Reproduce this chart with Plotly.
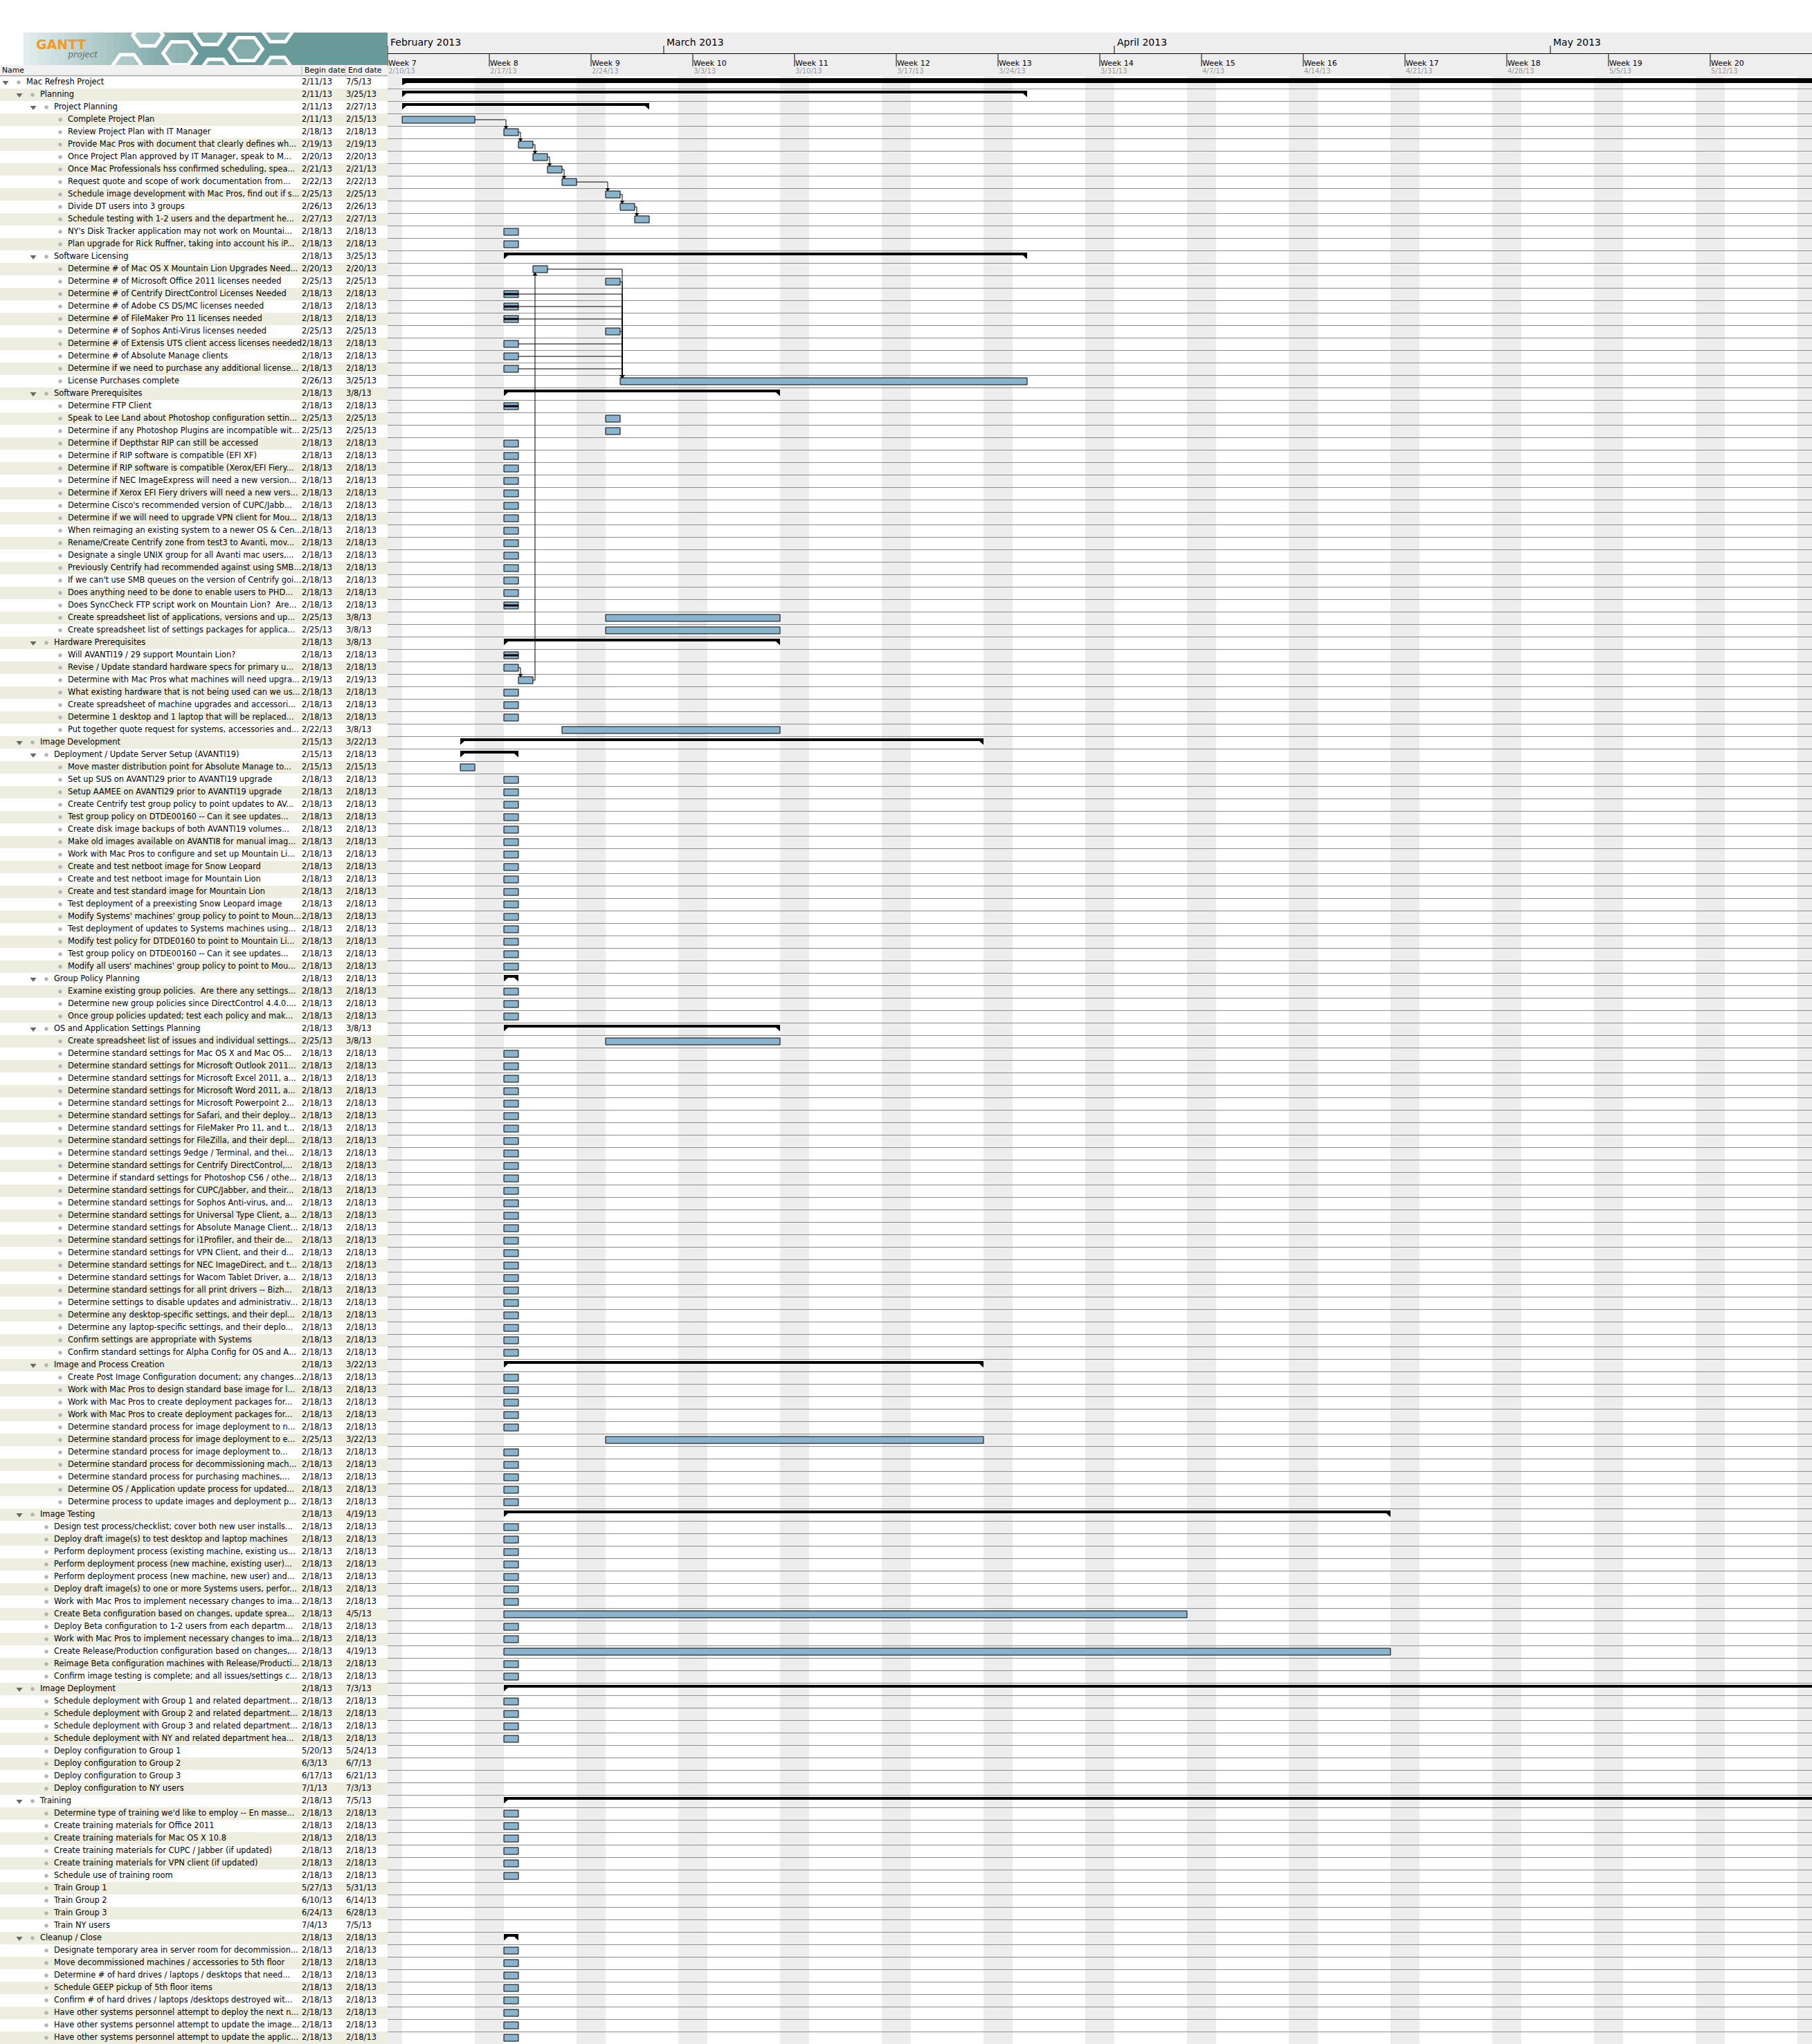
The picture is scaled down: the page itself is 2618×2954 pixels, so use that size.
import math
import pandas as pd
import plotly.graph_objects as go

W, H = 2618, 2954
TABLE_W = 560
ROWS_TOP = 110
ROW_H = 18
DAY_W = 21

task_names = [
    "Mac Refresh Project", "Planning", "Project Planning",
    "Complete Project Plan", "Review Project Plan with IT Manager",
    "Provide Mac Pros with document that clearly defines wh...",
    "Once Project Plan approved by IT Manager, speak to M...",
    "Once Mac Professionals hss confirmed scheduling, spea...",
    "Request quote and scope of work documentation from...",
    "Schedule image development with Mac Pros, find out if s...",
    "Divide DT users into 3 groups",
    "Schedule testing with 1-2 users and the department he...",
    "NY's Disk Tracker application may not work on Mountai...",
    "Plan upgrade for Rick Ruffner, taking into account his iP...",
    "Software Licensing",
    "Determine # of Mac OS X Mountain Lion Upgrades Need...",
    "Determine # of Microsoft Office 2011 licenses needed",
    "Determine # of Centrify DirectControl Licenses Needed",
    "Determine # of Adobe CS DS/MC licenses needed",
    "Determine # of FileMaker Pro 11 licenses needed",
    "Determine # of Sophos Anti-Virus licenses needed",
    "Determine # of Extensis UTS client access licenses needed",
    "Determine # of Absolute Manage clients",
    "Determine if we need to purchase any additional license...",
    "License Purchases complete",
    "Software Prerequisites",
    "Determine FTP Client",
    "Speak to Lee Land about Photoshop configuration settin...",
    "Determine if any Photoshop Plugins are incompatible wit...",
    "Determine if Depthstar RIP can still be accessed",
    "Determine if RIP software is compatible (EFI XF)",
    "Determine if RIP software is compatible (Xerox/EFI Fiery...",
    "Determine if NEC ImageExpress will need a new version...",
    "Determine if Xerox EFI Fiery drivers will need a new vers...",
    "Determine Cisco's recommended version of CUPC/Jabb...",
    "Determine if we will need to upgrade VPN client for Mou...",
    "When reimaging an existing system to a newer OS & Cen...",
    "Rename/Create Centrify zone from test3 to Avanti, mov...",
    "Designate a single UNIX group for all Avanti mac users,...",
    "Previously Centrify had recommended against using SMB...",
    "If we can't use SMB queues on the version of Centrify goi...",
    "Does anything need to be done to enable users to PHD...",
    "Does SyncCheck FTP script work on Mountain Lion?  Are...",
    "Create spreadsheet list of applications, versions and up...",
    "Create spreadsheet list of settings packages for applica...",
    "Hardware Prerequisites",
    "Will AVANTI19 / 29 support Mountain Lion?",
    "Revise / Update standard hardware specs for primary u...",
    "Determine with Mac Pros what machines will need upgra...",
    "What existing hardware that is not being used can we us...",
    "Create spreadsheet of machine upgrades and accessori...",
    "Determine 1 desktop and 1 laptop that will be replaced...",
    "Put together quote request for systems, accessories and...",
    "Image Development",
    "Deployment / Update Server Setup (AVANTI19)",
    "Move master distribution point for Absolute Manage to...",
    "Set up SUS on AVANTI29 prior to AVANTI19 upgrade",
    "Setup AAMEE on AVANTI29 prior to AVANTI19 upgrade",
    "Create Centrify test group policy to point updates to AV...",
    "Test group policy on DTDE00160 -- Can it see updates...",
    "Create disk image backups of both AVANTI19 volumes...",
    "Make old images available on AVANTI8 for manual imag...",
    "Work with Mac Pros to configure and set up Mountain Li...",
    "Create and test netboot image for Snow Leopard",
    "Create and test netboot image for Mountain Lion",
    "Create and test standard image for Mountain Lion",
    "Test deployment of a preexisting Snow Leopard image",
    "Modify Systems' machines' group policy to point to Moun...",
    "Test deployment of updates to Systems machines using...",
    "Modify test policy for DTDE0160 to point to Mountain Li...",
    "Test group policy on DTDE00160 -- Can it see updates...",
    "Modify all users' machines' group policy to point to Mou...",
    "Group Policy Planning",
    "Examine existing group policies.  Are there any settings...",
    "Determine new group policies since DirectControl 4.4.0....",
    "Once group policies updated; test each policy and mak...",
    "OS and Application Settings Planning",
    "Create spreadsheet list of issues and individual settings...",
    "Determine standard settings for Mac OS X and Mac OS...",
    "Determine standard settings for Microsoft Outlook 2011...",
    "Determine standard settings for Microsoft Excel 2011, a...",
    "Determine standard settings for Microsoft Word 2011, a...",
    "Determine standard settings for Microsoft Powerpoint 2...",
    "Determine standard settings for Safari, and their deploy...",
    "Determine standard settings for FileMaker Pro 11, and t...",
    "Determine standard settings for FileZilla, and their depl...",
    "Determine standard settings 9edge / Terminal, and thei...",
    "Determine standard settings for Centrify DirectControl,...",
    "Determine if standard settings for Photoshop CS6 / othe...",
    "Determine standard settings for CUPC/Jabber, and their...",
    "Determine standard settings for Sophos Anti-virus, and...",
    "Determine standard settings for Universal Type Client, a...",
    "Determine standard settings for Absolute Manage Client...",
    "Determine standard settings for i1Profiler, and their de...",
    "Determine standard settings for VPN Client, and their d...",
    "Determine standard settings for NEC ImageDirect, and t...",
    "Determine standard settings for Wacom Tablet Driver, a...",
    "Determine standard settings for all print drivers -- Bizh...",
    "Determine settings to disable updates and administrativ...",
    "Determine any desktop-specific settings, and their depl...",
    "Determine any laptop-specific settings, and their deplo...",
    "Confirm settings are appropriate with Systems",
    "Confirm standard settings for Alpha Config for OS and A...",
    "Image and Process Creation",
    "Create Post Image Configuration document; any changes...",
    "Work with Mac Pros to design standard base image for l...",
    "Work with Mac Pros to create deployment packages for...",
    "Work with Mac Pros to create deployment packages for...",
    "Determine standard process for image deployment to n...",
    "Determine standard process for image deployment to e...",
    "Determine standard process for image deployment to...",
    "Determine standard process for decommissioning mach...",
    "Determine standard process for purchasing machines,...",
    "Determine OS / Application update process for updated...",
    "Determine process to update images and deployment p...",
    "Image Testing",
    "Design test process/checklist; cover both new user installs...",
    "Deploy draft image(s) to test desktop and laptop machines",
    "Perform deployment process (existing machine, existing us...",
    "Perform deployment process (new machine, existing user)...",
    "Perform deployment process (new machine, new user) and...",
    "Deploy draft image(s) to one or more Systems users, perfor...",
    "Work with Mac Pros to implement necessary changes to ima...",
    "Create Beta configuration based on changes, update sprea...",
    "Deploy Beta configuration to 1-2 users from each departm...",
    "Work with Mac Pros to implement necessary changes to ima...",
    "Create Release/Production configuration based on changes,...",
    "Reimage Beta configuration machines with Release/Producti...",
    "Confirm image testing is complete; and all issues/settings c...",
    "Image Deployment",
    "Schedule deployment with Group 1 and related department...",
    "Schedule deployment with Group 2 and related department...",
    "Schedule deployment with Group 3 and related department...",
    "Schedule deployment with NY and related department hea...",
    "Deploy configuration to Group 1",
    "Deploy configuration to Group 2",
    "Deploy configuration to Group 3",
    "Deploy configuration to NY users",
    "Training",
    "Determine type of training we'd like to employ -- En masse...",
    "Create training materials for Office 2011",
    "Create training materials for Mac OS X 10.8",
    "Create training materials for CUPC / Jabber (if updated)",
    "Create training materials for VPN client (if updated)",
    "Schedule use of training room",
    "Train Group 1", "Train Group 2", "Train Group 3", "Train NY users",
    "Cleanup / Close",
    "Designate temporary area in server room for decommission...",
    "Move decommissioned machines / accessories to 5th floor",
    "Determine # of hard drives / laptops / desktops that need...",
    "Schedule GEEP pickup of 5th floor items",
    "Confirm # of hard drives / laptops /desktops destroyed wit...",
    "Have other systems personnel attempt to deploy the next n...",
    "Have other systems personnel attempt to update the image...",
    "Have other systems personnel attempt to update the applic...",
]

task_levels = (
    [0, 1, 2] + [3] * 11 +
    [2] + [3] * 10 +
    [2] + [3] * 19 +
    [2] + [3] * 7 +
    [1, 2] + [3] * 17 +
    [2] + [3] * 3 +
    [2] + [3] * 26 +
    [2] + [3] * 11 +
    [1] + [2] * 13 +
    [1] + [2] * 8 +
    [1] + [2] * 10 +
    [1] + [2] * 8
)

begin_dates = [
    "2/11/13", "2/11/13", "2/11/13", "2/11/13", "2/18/13", "2/19/13", "2/20/13", "2/21/13",
    "2/22/13", "2/25/13", "2/26/13", "2/27/13", "2/18/13", "2/18/13",
    "2/18/13", "2/20/13", "2/25/13", "2/18/13", "2/18/13", "2/18/13", "2/25/13", "2/18/13",
    "2/18/13", "2/18/13", "2/26/13",
    "2/18/13", "2/18/13", "2/25/13", "2/25/13", "2/18/13", "2/18/13", "2/18/13", "2/18/13",
    "2/18/13", "2/18/13", "2/18/13", "2/18/13", "2/18/13", "2/18/13", "2/18/13", "2/18/13",
    "2/18/13", "2/18/13", "2/25/13", "2/25/13",
    "2/18/13", "2/18/13", "2/18/13", "2/19/13", "2/18/13", "2/18/13", "2/18/13", "2/22/13",
    "2/15/13", "2/15/13", "2/15/13", "2/18/13", "2/18/13", "2/18/13", "2/18/13", "2/18/13",
    "2/18/13", "2/18/13", "2/18/13", "2/18/13", "2/18/13", "2/18/13", "2/18/13", "2/18/13",
    "2/18/13", "2/18/13", "2/18/13",
    "2/18/13", "2/18/13", "2/18/13", "2/18/13",
    "2/18/13", "2/25/13", "2/18/13", "2/18/13", "2/18/13", "2/18/13", "2/18/13", "2/18/13",
    "2/18/13", "2/18/13", "2/18/13", "2/18/13", "2/18/13", "2/18/13", "2/18/13", "2/18/13",
    "2/18/13", "2/18/13", "2/18/13", "2/18/13", "2/18/13", "2/18/13", "2/18/13", "2/18/13",
    "2/18/13", "2/18/13", "2/18/13",
    "2/18/13", "2/18/13", "2/18/13", "2/18/13", "2/18/13", "2/18/13", "2/25/13", "2/18/13",
    "2/18/13", "2/18/13", "2/18/13", "2/18/13",
    "2/18/13", "2/18/13", "2/18/13", "2/18/13", "2/18/13", "2/18/13", "2/18/13", "2/18/13",
    "2/18/13", "2/18/13", "2/18/13", "2/18/13", "2/18/13", "2/18/13",
    "2/18/13", "2/18/13", "2/18/13", "2/18/13", "2/18/13", "5/20/13", "6/3/13", "6/17/13", "7/1/13",
    "2/18/13", "2/18/13", "2/18/13", "2/18/13", "2/18/13", "2/18/13", "2/18/13",
    "5/27/13", "6/10/13", "6/24/13", "7/4/13",
    "2/18/13", "2/18/13", "2/18/13", "2/18/13", "2/18/13", "2/18/13", "2/18/13", "2/18/13", "2/18/13",
]

end_dates = [
    "7/5/13", "3/25/13", "2/27/13", "2/15/13", "2/18/13", "2/19/13", "2/20/13", "2/21/13",
    "2/22/13", "2/25/13", "2/26/13", "2/27/13", "2/18/13", "2/18/13",
    "3/25/13", "2/20/13", "2/25/13", "2/18/13", "2/18/13", "2/18/13", "2/25/13", "2/18/13",
    "2/18/13", "2/18/13", "3/25/13",
    "3/8/13", "2/18/13", "2/25/13", "2/25/13", "2/18/13", "2/18/13", "2/18/13", "2/18/13",
    "2/18/13", "2/18/13", "2/18/13", "2/18/13", "2/18/13", "2/18/13", "2/18/13", "2/18/13",
    "2/18/13", "2/18/13", "3/8/13", "3/8/13",
    "3/8/13", "2/18/13", "2/18/13", "2/19/13", "2/18/13", "2/18/13", "2/18/13", "3/8/13",
    "3/22/13", "2/18/13", "2/15/13", "2/18/13", "2/18/13", "2/18/13", "2/18/13", "2/18/13",
    "2/18/13", "2/18/13", "2/18/13", "2/18/13", "2/18/13", "2/18/13", "2/18/13", "2/18/13",
    "2/18/13", "2/18/13", "2/18/13",
    "2/18/13", "2/18/13", "2/18/13", "2/18/13",
    "3/8/13", "3/8/13", "2/18/13", "2/18/13", "2/18/13", "2/18/13", "2/18/13", "2/18/13",
    "2/18/13", "2/18/13", "2/18/13", "2/18/13", "2/18/13", "2/18/13", "2/18/13", "2/18/13",
    "2/18/13", "2/18/13", "2/18/13", "2/18/13", "2/18/13", "2/18/13", "2/18/13", "2/18/13",
    "2/18/13", "2/18/13", "2/18/13",
    "3/22/13", "2/18/13", "2/18/13", "2/18/13", "2/18/13", "2/18/13", "3/22/13", "2/18/13",
    "2/18/13", "2/18/13", "2/18/13", "2/18/13",
    "4/19/13", "2/18/13", "2/18/13", "2/18/13", "2/18/13", "2/18/13", "2/18/13", "2/18/13",
    "4/5/13", "2/18/13", "2/18/13", "4/19/13", "2/18/13", "2/18/13",
    "7/3/13", "2/18/13", "2/18/13", "2/18/13", "2/18/13", "5/24/13", "6/7/13", "6/21/13", "7/3/13",
    "7/5/13", "2/18/13", "2/18/13", "2/18/13", "2/18/13", "2/18/13", "2/18/13",
    "5/31/13", "6/14/13", "6/28/13", "7/5/13",
    "2/18/13", "2/18/13", "2/18/13", "2/18/13", "2/18/13", "2/18/13", "2/18/13", "2/18/13", "2/18/13",
]

# rows whose tasks are drawn as completed (dark progress line inside the bar)
done_rows = [17, 18, 19, 26, 42, 46]

dep_from = [3, 4, 5, 6, 7, 8, 9, 10, 15, 16, 17, 18, 19, 20, 21, 22, 23, 48, 47]
dep_to = [4, 5, 6, 7, 8, 9, 10, 11, 24, 24, 24, 24, 24, 24, 24, 24, 24, 15, 48]

month_labels = ["February 2013", "March 2013", "April 2013", "May 2013"]
month_dates = ["2013-02-10", "2013-03-01", "2013-04-01", "2013-05-01"]
week_labels = ["Week 7", "Week 8", "Week 9", "Week 10", "Week 11", "Week 12", "Week 13",
               "Week 14", "Week 15", "Week 16", "Week 17", "Week 18", "Week 19", "Week 20"]
week_dates = ["2/10/13", "2/17/13", "2/24/13", "3/3/13", "3/10/13", "3/17/13", "3/24/13",
              "3/31/13", "4/7/13", "4/14/13", "4/21/13", "4/28/13", "5/5/13", "5/12/13"]
view_start, view_end = "2013-02-10", "2013-05-19"

FONT = "DejaVu Sans"
FS = 11.4
BAR_FILL = "#8AB4CD"
STRIPE = "#EDEDE0"
WEEKEND = "#EDEDED"
GRID = "#8E8E8E"

n = len(task_names)
b = list(pd.to_datetime(begin_dates, format="%m/%d/%y"))
e = [t + pd.Timedelta(days=1) for t in pd.to_datetime(end_dates, format="%m/%d/%y")]
is_summary = [i + 1 < n and task_levels[i + 1] > task_levels[i] for i in range(n)]


def fx(x):
    return x / W


def fy(y):
    return 1 - y / H


def iso(t):
    return t.strftime("%Y-%m-%d %H:%M:%S")


fig = go.Figure()
shapes = []
annotations = []

# ---- table stripes
for i in range(n):
    if i % 2 == 1:
        shapes.append(dict(type="rect", xref="paper", yref="y2", x0=0, x1=fx(TABLE_W),
                           y0=i - 0.5, y1=i + 0.5, fillcolor=STRIPE, line_width=0, layer="below"))

# ---- weekend shading
for sat in pd.date_range("2013-02-09", "2013-05-18", freq="7D"):
    shapes.append(dict(type="rect", xref="x", yref="y domain", x0=iso(sat),
                       x1=iso(sat + pd.Timedelta(days=2)), y0=0, y1=1,
                       fillcolor=WEEKEND, line_width=0, layer="below"))

# ---- timeline header
shapes.append(dict(type="rect", xref="paper", yref="paper", x0=fx(TABLE_W), x1=1,
                   y0=fy(110), y1=fy(47), fillcolor="#EEEEEE", line_width=0, layer="below"))
shapes.append(dict(type="line", xref="paper", yref="paper", x0=fx(TABLE_W), x1=1,
                   y0=fy(77.5), y1=fy(77.5), line=dict(color="black", width=1)))
for d in month_dates:
    shapes.append(dict(type="line", xref="x", yref="paper", x0=d, x1=d, y0=fy(77), y1=fy(66),
                       line=dict(color="black", width=1)))
for lab, d in zip(month_labels, month_dates):
    annotations.append(dict(xref="x", yref="paper", x=d, y=fy(61), text=lab, showarrow=False,
                            xanchor="left", yanchor="middle", xshift=2,
                            font=dict(family=FONT, size=14, color="black")))
for lab, d in zip(week_labels, week_dates):
    dd = iso(pd.to_datetime(d, format="%m/%d/%y"))
    shapes.append(dict(type="line", xref="x", yref="paper", x0=dd, x1=dd, y0=fy(96), y1=fy(77),
                       line=dict(color="black", width=1)))
    annotations.append(dict(xref="x", yref="paper", x=dd, y=fy(91), text=lab, showarrow=False,
                            xanchor="left", yanchor="middle", xshift=-1,
                            font=dict(family=FONT, size=11, color="black")))
    annotations.append(dict(xref="x", yref="paper", x=dd, y=fy(103), text=d, showarrow=False,
                            xanchor="left", yanchor="middle", xshift=-1,
                            font=dict(family=FONT, size=10, color="#9A9A9A")))

# ---- table header
shapes.append(dict(type="rect", xref="paper", yref="paper", x0=0, x1=fx(TABLE_W),
                   y0=fy(110), y1=fy(94), fillcolor="#F1F1F1", line_width=0, layer="below"))
shapes.append(dict(type="line", xref="paper", yref="paper", x0=0, x1=fx(TABLE_W),
                   y0=fy(109.5), y1=fy(109.5), line=dict(color="#A5A5A5", width=1.5)))
for xs in (436, 499):
    shapes.append(dict(type="line", xref="paper", yref="paper", x0=fx(xs), x1=fx(xs),
                       y0=fy(108), y1=fy(95), line=dict(color="#B0B0B0", width=1)))
for txt, xs in (("Name", 1), ("Begin date", 438), ("End date", 501)):
    annotations.append(dict(xref="paper", yref="paper", x=fx(xs), y=fy(101.5), text=txt,
                            showarrow=False, xanchor="left", yanchor="middle",
                            font=dict(family=FONT, size=10.8, color="black")))

# ---- banner (own hidden subplot so its drawings clip to it)
BW, BH = 527, 47
steps = 26
c0, c1 = (226, 236, 236), (104, 154, 153)
for k in range(steps):
    t = k / (steps - 1)
    col = "rgb(%d,%d,%d)" % tuple(round(c0[j] + (c1[j] - c0[j]) * t) for j in range(3))
    shapes.append(dict(type="rect", xref="x3", yref="y3", x0=k * 10, x1=k * 10 + 10.5, y0=0, y1=BH,
                       fillcolor=col, line_width=0, layer="below"))
shapes.append(dict(type="rect", xref="x3", yref="y3", x0=steps * 10, x1=BW, y0=0, y1=BH,
                   fillcolor="rgb(104,154,153)", line_width=0, layer="below"))
hexes = [(180, 4, 22), (150, 46, 20), (226, 30, 24), (270, 2, 22), (278, 54, 22),
         (322, 24, 24), (368, -2, 22), (368, 50, 20)]
for cx, cy, r in hexes:
    pts = [(cx + r * math.cos(math.radians(a)), cy + r * 0.8 * math.sin(math.radians(a)))
           for a in range(0, 360, 60)]
    path = "M" + " L".join("%.1f,%.1f" % p for p in pts) + " Z"
    shapes.append(dict(type="path", xref="x3", yref="y3", path=path,
                       fillcolor="rgba(255,255,255,0.18)", line=dict(color="white", width=5)))
annotations.append(dict(xref="x3", yref="y3", x=16, y=17, text="<b>GANTT</b>", showarrow=False,
                        xanchor="left", yanchor="middle",
                        font=dict(family=FONT, size=19, color="#F39A24")))
annotations.append(dict(xref="x3", yref="y3", x=62, y=32, text="<i>project</i>", showarrow=False,
                        xanchor="left", yanchor="middle",
                        font=dict(family="DejaVu Serif", size=12, color="#5F6B6B")))

# ---- task bars
leaf = [i for i in range(n) if not is_summary[i]]
fig.add_trace(go.Bar(
    orientation="h", y=leaf, base=[iso(b[i]) for i in leaf],
    x=[(e[i] - b[i]).total_seconds() * 1000 for i in leaf],
    width=10 / ROW_H, marker=dict(color=BAR_FILL, line=dict(color="black", width=1)),
    xaxis="x", yaxis="y", hoverinfo="skip", showlegend=False))

# ---- completion (progress) lines
fig.add_trace(go.Bar(
    orientation="h", y=done_rows, base=[iso(b[i]) for i in done_rows],
    x=[(e[i] - b[i]).total_seconds() * 1000 for i in done_rows],
    width=3 / ROW_H, marker=dict(color="black", line=dict(width=0)),
    xaxis="x", yaxis="y", hoverinfo="skip", showlegend=False))

# ---- summary bars with end feet
sx, sy = [], []
fw = pd.Timedelta(hours=24 * 6 / DAY_W)
for i in range(n):
    if not is_summary[i]:
        continue
    thick = 7 if task_levels[i] == 0 else 4
    top = i - 0.5 + 3 / ROW_H
    bot = top + thick / ROW_H
    foot = i - 0.5 + (13 if task_levels[i] == 0 else 12.5) / ROW_H
    x0, x1 = b[i], e[i]
    for xx, yy in [(x0, top), (x1, top), (x1, foot), (x1 - fw, bot), (x0 + fw, bot), (x0, foot), (x0, top)]:
        sx.append(iso(xx))
        sy.append(yy)
    sx.append(None)
    sy.append(None)
fig.add_trace(go.Scatter(x=sx, y=sy, mode="lines", fill="toself", fillcolor="black",
                         line=dict(width=0, color="black"), xaxis="x", yaxis="y",
                         hoverinfo="skip", showlegend=False))

# ---- dependency arrows
off = pd.Timedelta(hours=24 * 3 / DAY_W)
lx, ly, dnx, dny, upx, upy = [], [], [], [], [], []
for p, s in zip(dep_from, dep_to):
    xa = iso(b[s] + off)
    if s > p:
        tip = s - 5 / ROW_H
        dnx.append(xa)
        dny.append(tip - 2.5 / ROW_H)
    else:
        tip = s + 5 / ROW_H
        upx.append(xa)
        upy.append(tip + 2.5 / ROW_H)
    lx += [iso(e[p]), xa, xa, None]
    ly += [p, p, tip, None]
fig.add_trace(go.Scatter(x=lx, y=ly, mode="lines", line=dict(color="black", width=1),
                         xaxis="x", yaxis="y", hoverinfo="skip", showlegend=False))
fig.add_trace(go.Scatter(x=dnx, y=dny, mode="markers",
                         marker=dict(symbol="triangle-down", size=6, color="black"),
                         xaxis="x", yaxis="y", hoverinfo="skip", showlegend=False))
fig.add_trace(go.Scatter(x=upx, y=upy, mode="markers",
                         marker=dict(symbol="triangle-up", size=6, color="black"),
                         xaxis="x", yaxis="y", hoverinfo="skip", showlegend=False))

# ---- table text and icons
rows = list(range(n))
fig.add_trace(go.Scatter(
    x=[8 + 20 * task_levels[i] for i in rows if is_summary[i]], y=[i for i in rows if is_summary[i]],
    mode="markers", marker=dict(symbol="triangle-down", size=8, color="#686868"),
    xaxis="x2", yaxis="y2", hoverinfo="skip", showlegend=False, cliponaxis=False))
fig.add_trace(go.Scatter(
    x=[27 + 20 * task_levels[i] for i in rows], y=rows,
    mode="markers", marker=dict(symbol="circle", size=5.5, color="#B4B4B4"),
    xaxis="x2", yaxis="y2", hoverinfo="skip", showlegend=False, cliponaxis=False))
fig.add_trace(go.Scatter(
    x=[38 + 20 * task_levels[i] for i in rows], y=rows, text=task_names,
    mode="text", textposition="middle right",
    textfont=dict(family=FONT, size=FS, color="black"),
    xaxis="x2", yaxis="y2", hoverinfo="skip", showlegend=False, cliponaxis=False))
fig.add_trace(go.Scatter(
    x=[436] * n, y=rows, text=begin_dates, mode="text", textposition="middle right",
    textfont=dict(family=FONT, size=FS, color="black"),
    xaxis="x2", yaxis="y2", hoverinfo="skip", showlegend=False, cliponaxis=False))
fig.add_trace(go.Scatter(
    x=[500] * n, y=rows, text=end_dates, mode="text", textposition="middle right",
    textfont=dict(family=FONT, size=FS, color="black"),
    xaxis="x2", yaxis="y2", hoverinfo="skip", showlegend=False, cliponaxis=False))

ydom = [0, fy(ROWS_TOP)]
yr = [n - 0.5, -0.5]
fig.update_layout(
    width=W, height=H, margin=dict(l=0, r=0, t=0, b=0, pad=0),
    paper_bgcolor="white", plot_bgcolor="white", barmode="overlay", showlegend=False,
    shapes=shapes, annotations=annotations,
    xaxis=dict(domain=[fx(TABLE_W), 1], type="date", range=[view_start, view_end], anchor="y",
               showgrid=False, zeroline=False, showticklabels=False, ticks="", showline=False),
    yaxis=dict(domain=ydom, range=yr, anchor="x", tickvals=[i + 0.5 for i in range(n - 1)],
               showgrid=True, gridcolor=GRID, gridwidth=1, zeroline=False,
               showticklabels=False, ticks="", showline=False),
    xaxis2=dict(domain=[0, fx(TABLE_W)], range=[0, TABLE_W], anchor="y2", visible=False),
    yaxis2=dict(domain=ydom, range=yr, anchor="x2", visible=False),
    xaxis3=dict(domain=[fx(34), fx(TABLE_W)], range=[0, BW], anchor="y3", visible=False),
    yaxis3=dict(domain=[fy(94), fy(47)], range=[BH, 0], anchor="x3", visible=False),
)

fig.write_html("out.html", config={"displayModeBar": False},
               post_script="document.body.style.margin='0';")
